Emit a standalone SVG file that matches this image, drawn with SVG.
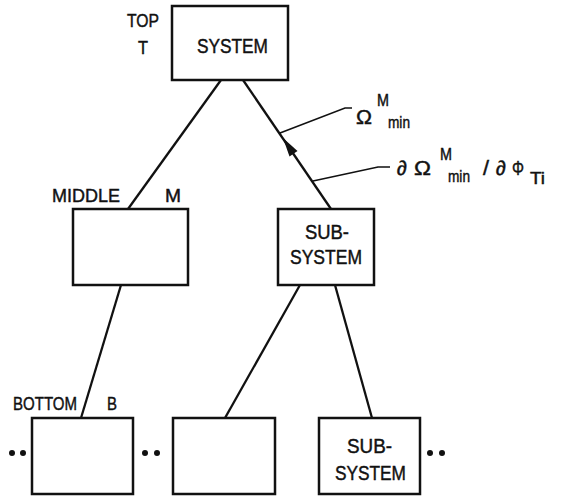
<svg xmlns="http://www.w3.org/2000/svg" width="587" height="498" viewBox="0 0 587 498">
<style>
.box{fill:#fff;stroke:#111;stroke-width:2.5}
.ln{stroke:#111;stroke-width:2.3;fill:none}
.lead{stroke:#111;stroke-width:1.6;fill:none}
text{font-family:"Liberation Sans",Arial,sans-serif;fill:#111;stroke:#111;stroke-width:0.45}
.lbl{font-size:19px}
.big{font-size:20px}
.sm{font-size:17px}
.dot{fill:#111}
</style>
<rect width="587" height="498" fill="#fff"/>
<g id="connectors">
<line class="ln" x1="221" y1="80" x2="128" y2="209"/>
<line class="ln" x1="243" y1="80" x2="331" y2="209"/>
<line class="ln" x1="121" y1="285" x2="81" y2="418"/>
<line class="ln" x1="300" y1="285" x2="225" y2="418"/>
<line class="ln" x1="335" y1="285" x2="372" y2="418"/>
<path d="M283,138 L297.5,151 L289.5,156.5 Z" fill="#111"/>
<polyline class="lead" points="280,133 345,108 352,108"/>
<polyline class="lead" points="313,181 378,167 390,167"/>
</g>
<g id="labels">
<text class="lbl" x="127" y="27" textLength="32" lengthAdjust="spacingAndGlyphs">TOP</text>
<text class="lbl" x="138" y="54" textLength="10" lengthAdjust="spacingAndGlyphs">T</text>
<text class="lbl" x="52" y="202" textLength="68" lengthAdjust="spacingAndGlyphs">MIDDLE</text>
<text class="lbl" x="165" y="202" textLength="16" lengthAdjust="spacingAndGlyphs">M</text>
<text class="lbl" x="13" y="410" textLength="64" lengthAdjust="spacingAndGlyphs">BOTTOM</text>
<text class="lbl" x="107" y="410" textLength="10" lengthAdjust="spacingAndGlyphs">B</text>
</g>
<g id="omega-label">
<text class="big" x="356" y="124" textLength="16" lengthAdjust="spacingAndGlyphs">Ω</text>
<text class="sm" x="377" y="106" textLength="12" lengthAdjust="spacingAndGlyphs">M</text>
<text class="sm" x="388" y="128" textLength="22" lengthAdjust="spacingAndGlyphs">min</text>
</g>
<g id="derivative-label">
<text class="big" x="397" y="175" textLength="10" lengthAdjust="spacingAndGlyphs">∂</text>
<text class="big" x="414" y="175" textLength="17" lengthAdjust="spacingAndGlyphs">Ω</text>
<text class="sm" x="440" y="160" textLength="12" lengthAdjust="spacingAndGlyphs">M</text>
<text class="sm" x="448" y="182" textLength="22" lengthAdjust="spacingAndGlyphs">min</text>
<text class="big" x="483" y="175" textLength="6" lengthAdjust="spacingAndGlyphs">/</text>
<text class="big" x="496" y="175" textLength="10" lengthAdjust="spacingAndGlyphs">∂</text>
<text class="big" x="512" y="175" textLength="12" lengthAdjust="spacingAndGlyphs">Φ</text>
<text class="sm" x="530" y="184" textLength="15" lengthAdjust="spacingAndGlyphs">Ti</text>
</g>
<g id="top-system">
<rect class="box" x="172" y="6" width="116" height="74"/>
<text class="big" x="197" y="53" textLength="71" lengthAdjust="spacingAndGlyphs">SYSTEM</text>
</g>
<g id="middle">
<rect class="box" x="73" y="209" width="115" height="76"/>
</g>
<g id="subsystem">
<rect class="box" x="278" y="209" width="96" height="76"/>
<text class="big" x="305" y="239" textLength="44" lengthAdjust="spacingAndGlyphs">SUB-</text>
<text class="big" x="290" y="264" textLength="72" lengthAdjust="spacingAndGlyphs">SYSTEM</text>
</g>
<g id="bottom-1">
<rect class="box" x="32" y="418" width="101" height="76"/>
</g>
<g id="bottom-2">
<rect class="box" x="173" y="418" width="102" height="76"/>
</g>
<g id="bottom-3">
<rect class="box" x="319" y="418" width="101" height="76"/>
<text class="big" x="347" y="453" textLength="45" lengthAdjust="spacingAndGlyphs">SUB-</text>
<text class="big" x="335" y="480" textLength="71" lengthAdjust="spacingAndGlyphs">SYSTEM</text>
</g>
<g id="dots">
<circle class="dot" cx="12" cy="453" r="3"/>
<circle class="dot" cx="23" cy="453" r="3"/>
<circle class="dot" cx="145" cy="453" r="3"/>
<circle class="dot" cx="157" cy="453" r="3"/>
<circle class="dot" cx="430" cy="453" r="3"/>
<circle class="dot" cx="442" cy="453" r="3"/>
</g>
</svg>
